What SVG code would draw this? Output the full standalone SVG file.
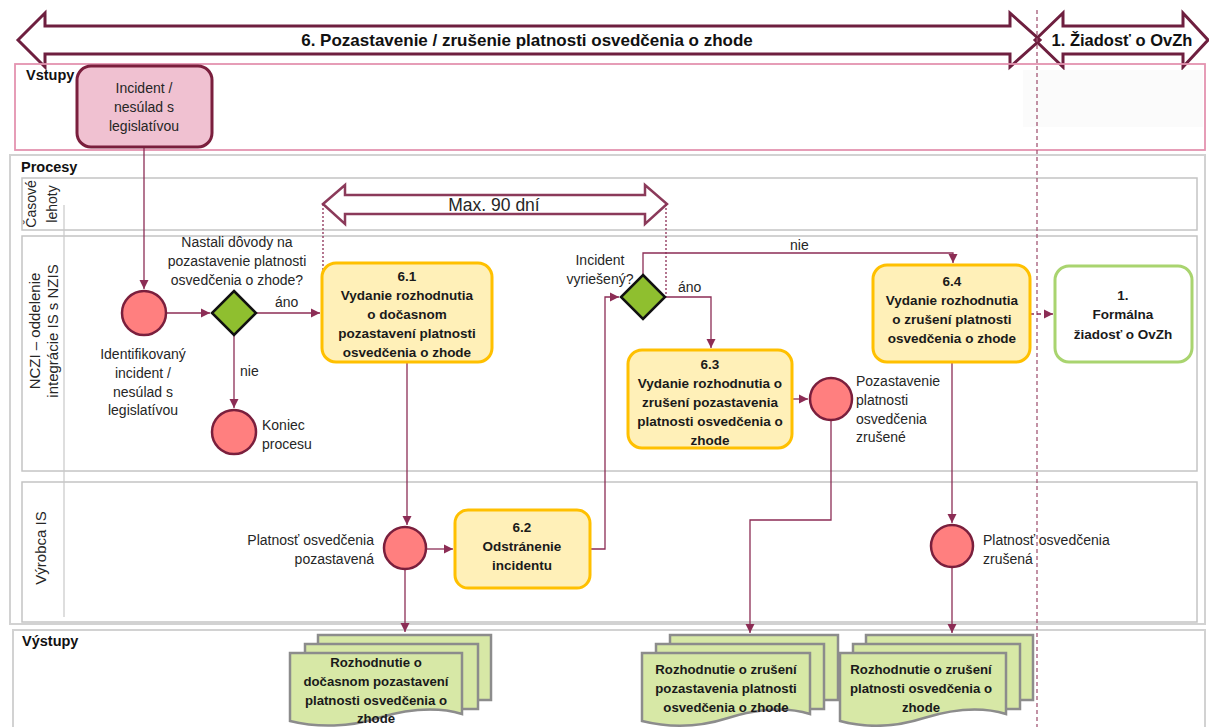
<svg xmlns="http://www.w3.org/2000/svg" width="1209" height="727" viewBox="0 0 1209 727">
<style>
.t{font-family:"Liberation Sans",Arial,sans-serif;font-size:14px;fill:#262626}
.c{text-anchor:middle}
.b{font-family:"Liberation Sans",Arial,sans-serif;font-size:13.5px;font-weight:bold;fill:#1a1a1a;text-anchor:middle}
.d{font-size:13.2px}
.h{font-family:"Liberation Sans",Arial,sans-serif;font-size:14.5px;font-weight:bold;fill:#111}
.lane{fill:none;stroke:#c4c4c4;stroke-width:1.5}
.task{fill:#fff0b8;stroke:#ffc000;stroke-width:3}
.ev{fill:#ff7f7f;stroke:#7a1f3d;stroke-width:2.5}
.gw{fill:#8fbf2f;stroke:#111;stroke-width:2.5}
.doc{fill:#d7e8a6;stroke:#8c8c8c;stroke-width:2.5}
.con{fill:none;stroke:#8c2d55;stroke-width:1.3}
.big{fill:none;stroke:#6e1f3f;stroke-width:3;stroke-linejoin:miter}
</style>
<defs>
<marker id="ah" markerUnits="userSpaceOnUse" markerWidth="10" markerHeight="10" refX="9" refY="5" orient="auto">
<path d="M0,0.5 L9,5 L0,9.5 z" fill="#8c2d55"/>
</marker>
</defs>
<rect width="1209" height="727" fill="#fff"/>

<g id="phase-banner">
<path class="big" d="M18,40 L45,13 L45,26 L1010,26 L1010,13 L1040,40 L1010,67 L1010,54 L45,54 L45,67 Z"/>
<text x="527" y="46" style="font-family:'Liberation Sans',Arial,sans-serif;font-size:17px;font-weight:bold;fill:#111" text-anchor="middle">6. Pozastavenie / zrušenie platnosti osvedčenia o zhode</text>
<path class="big" d="M1035,40 L1063,13 L1063,26 L1183,26 L1183,13 L1208,40 L1183,67 L1183,54 L1063,54 L1063,67 Z"/>
<text x="1122" y="46" style="font-family:'Liberation Sans',Arial,sans-serif;font-size:16.5px;font-weight:bold;fill:#111" text-anchor="middle">1. Žiadosť o OvZh</text>
</g>

<g id="lanes">
<rect x="1023" y="70" width="180" height="57" fill="#fbfbfb"/>
<rect x="15" y="64" width="1190" height="86" fill="none" stroke="#e493b0" stroke-width="1.8"/>
<text class="h" x="26" y="80">Vstupy</text>
<rect x="10" y="155" width="1195" height="469" fill="none" stroke="#d2d2d2" stroke-width="2"/>
<text class="h" x="21" y="172">Procesy</text>
<rect class="lane" x="22" y="178" width="1175" height="52"/>
<rect class="lane" x="22" y="236" width="1175" height="235"/>
<rect class="lane" x="22" y="482" width="1175" height="140"/>
<line x1="64" y1="205" x2="64" y2="617" stroke="#c8c8c8" stroke-width="1.2"/>
<text class="t c" transform="translate(36,204) rotate(-90)" style="font-size:14px">Časové</text>
<text class="t c" transform="translate(57,204) rotate(-90)" style="font-size:14px">lehoty</text>
<text class="t c" transform="translate(40,331) rotate(-90)" style="font-size:15px">NCZI – oddelenie</text>
<text class="t c" transform="translate(58,331) rotate(-90)" style="font-size:15px">integrácie IS s NZIS</text>
<text class="t c" transform="translate(46,548) rotate(-90)" style="font-size:15px">Výrobca IS</text>
<rect x="13" y="630" width="1192" height="100" fill="none" stroke="#d2d2d2" stroke-width="2"/>
<text class="h" x="22" y="646">Výstupy</text>
<line x1="1037" y1="10" x2="1037" y2="727" stroke="#9b4a6a" stroke-width="1.2" stroke-dasharray="4 3"/>
</g>

<g id="time-limit">
<path d="M323,204 L345,185 L345,195 L645,195 L645,185 L667,204 L645,224 L645,214 L345,214 L345,224 Z" fill="#fff" stroke="#8b3a5a" stroke-width="2.5"/>
<text class="t c" x="494" y="211" style="font-size:17.5px">Max. 90 dní</text>
</g>

<g id="connectors">
<path class="con" d="M144,147 V289" marker-end="url(#ah)"/>
<path class="con" d="M166,313 H210" marker-end="url(#ah)"/>
<path class="con" d="M256,313 H320" marker-end="url(#ah)"/>
<path class="con" d="M234,335 V408" marker-end="url(#ah)"/>
<path class="con" d="M407,362 V525" marker-end="url(#ah)"/>
<path class="con" d="M426,549 H453" marker-end="url(#ah)"/>
<path class="con" d="M405,570 V632" marker-end="url(#ah)"/>
<path class="con" d="M590,549 H605 V297 H619" marker-end="url(#ah)"/>
<path class="con" d="M643,275 V253 H953 V263" marker-end="url(#ah)"/>
<path class="con" d="M665,297 H711 V348" marker-end="url(#ah)"/>
<path class="con" d="M792,399 H808" marker-end="url(#ah)"/>
<path class="con" d="M831,420 V520 H750 V633" marker-end="url(#ah)"/>
<path class="con" d="M952,362 V523" marker-end="url(#ah)"/>
<path class="con" d="M952,567 V633" marker-end="url(#ah)"/>
<path class="con" d="M1030,314 H1053" stroke-dasharray="4 3" marker-end="url(#ah)"/>
<path class="con" d="M323,204 V313 M666,204 V297" stroke-dasharray="2 2" stroke-width="1"/>
<text class="t" x="275" y="307">áno</text>
<text class="t" x="240" y="376">nie</text>
<text class="t" x="678" y="292">áno</text>
<text class="t" x="790" y="250">nie</text>
</g>

<g id="input-incident">
<rect x="77" y="66" width="135" height="81" rx="14" fill="#f0c1d1" stroke="#7a1f3d" stroke-width="3"/>
<text class="t c" x="144" y="93">Incident /</text>
<text class="t c" x="144" y="112">nesúlad s</text>
<text class="t c" x="144" y="131">legislatívou</text>
</g>

<g id="start-event">
<circle class="ev" cx="144" cy="313" r="22"/>
<text class="t c" x="143" y="359">Identifikovaný</text>
<text class="t c" x="143" y="378">incident /</text>
<text class="t c" x="143" y="397">nesúlad s</text>
<text class="t c" x="143" y="415">legislatívou</text>
</g>

<g id="gateway-reasons">
<polygon class="gw" points="234,291 256,313 234,335 212,313"/>
<text class="t c" x="237" y="247">Nastali dôvody na</text>
<text class="t c" x="237" y="266">pozastavenie platnosti</text>
<text class="t c" x="237" y="285">osvedčenia o zhode?</text>
</g>

<g id="end-event">
<circle class="ev" cx="234" cy="432" r="22"/>
<text class="t" x="262" y="430">Koniec</text>
<text class="t" x="262" y="449">procesu</text>
</g>

<g id="task-6-1">
<rect class="task" x="322" y="263" width="170" height="99" rx="14"/>
<text class="b" x="407" y="281">6.1</text>
<text class="b" x="407" y="300">Vydanie rozhodnutia</text>
<text class="b" x="407" y="319">o dočasnom</text>
<text class="b" x="407" y="338">pozastavení platnosti</text>
<text class="b" x="407" y="357">osvedčenia o zhode</text>
</g>

<g id="event-suspended">
<circle class="ev" cx="405" cy="548" r="21"/>
<text class="t" x="374" y="545" text-anchor="end">Platnosť osvedčenia</text>
<text class="t" x="374" y="564" text-anchor="end">pozastavená</text>
</g>

<g id="task-6-2">
<rect class="task" x="455" y="510" width="135" height="78" rx="13"/>
<text class="b" x="522" y="532">6.2</text>
<text class="b" x="522" y="551">Odstránenie</text>
<text class="b" x="522" y="570">incidentu</text>
</g>

<g id="gateway-resolved">
<polygon class="gw" points="643,275 665,297 643,319 621,297"/>
<text class="t c" x="600" y="265">Incident</text>
<text class="t c" x="600" y="284">vyriešený?</text>
</g>

<g id="task-6-3">
<rect class="task" x="628" y="350" width="164" height="98" rx="14"/>
<text class="b" x="710" y="369">6.3</text>
<text class="b" x="710" y="388">Vydanie rozhodnutia o</text>
<text class="b" x="710" y="407">zrušení pozastavenia</text>
<text class="b" x="710" y="426">platnosti osvedčenia o</text>
<text class="b" x="710" y="445">zhode</text>
</g>

<g id="event-suspension-cancelled">
<circle class="ev" cx="831" cy="399" r="21"/>
<text class="t" x="856" y="386">Pozastavenie</text>
<text class="t" x="856" y="405">platnosti</text>
<text class="t" x="856" y="424">osvedčenia</text>
<text class="t" x="856" y="442">zrušené</text>
</g>

<g id="task-6-4">
<rect class="task" x="873" y="265" width="157" height="97" rx="14"/>
<text class="b" x="952" y="286">6.4</text>
<text class="b" x="952" y="305">Vydanie rozhodnutia</text>
<text class="b" x="952" y="324">o zrušení platnosti</text>
<text class="b" x="952" y="343">osvedčenia o zhode</text>
</g>

<g id="task-1">
<rect x="1055" y="266" width="137" height="96" rx="14" fill="#fff" stroke="#a9d46f" stroke-width="3"/>
<text class="b" x="1123" y="300">1.</text>
<text class="b" x="1123" y="319">Formálna</text>
<text class="b" x="1123" y="339">žiadosť o OvZh</text>
</g>

<g id="event-cancelled">
<circle class="ev" cx="952" cy="546" r="21"/>
<text class="t" x="983" y="545">Platnosť osvedčenia</text>
<text class="t" x="983" y="564">zrušená</text>
</g>

<g id="doc-1">
<path class="doc" d="M318,635 H491 V700 H318 Z"/>
<path class="doc" d="M305,644 H478 V709 H305 Z"/>
<path class="doc" d="M290,653 H462 V714 C435,706 405,710 378,718 C350,727 318,728 290,721 Z"/>
<text class="b d" x="376" y="667">Rozhodnutie o</text>
<text class="b d" x="376" y="686">dočasnom pozastavení</text>
<text class="b d" x="376" y="705">platnosti osvedčenia o</text>
<text class="b d" x="376" y="723">zhode</text>
</g>

<g id="doc-2">
<path class="doc" d="M670,635 H838 V700 H670 Z"/>
<path class="doc" d="M656,644 H824 V709 H656 Z"/>
<path class="doc" d="M642,653 H810 V714 C784,706 754,710 728,718 C700,727 670,728 642,721 Z"/>
<text class="b d" x="726" y="674">Rozhodnutie o zrušení</text>
<text class="b d" x="726" y="693">pozastavenia platnosti</text>
<text class="b d" x="726" y="712">osvedčenia o zhode</text>
</g>

<g id="doc-3">
<path class="doc" d="M866,635 H1033 V700 H866 Z"/>
<path class="doc" d="M853,644 H1020 V709 H853 Z"/>
<path class="doc" d="M840,653 H1006 V714 C980,706 950,710 924,718 C896,727 866,728 840,721 Z"/>
<text class="b d" x="921" y="674">Rozhodnutie o zrušení</text>
<text class="b d" x="921" y="693">platnosti osvedčenia o</text>
<text class="b d" x="921" y="712">zhode</text>
</g>
</svg>
